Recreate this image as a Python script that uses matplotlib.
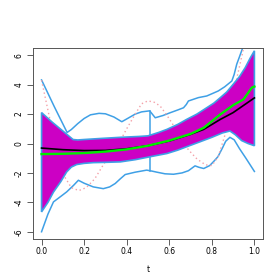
import numpy as np
import matplotlib
matplotlib.use("Agg")
import matplotlib.pyplot as plt

# Band (magenta) upper / lower
band_t_up = [0.0, 0.05, 0.10, 0.148, 0.17, 0.20, 0.276, 0.37, 0.46, 0.50, 0.55, 0.589, 0.64, 0.682, 0.73, 0.776, 0.81, 0.84, 0.87, 0.90, 0.93, 0.957, 0.98, 1.0]
band_up   = [2.1, 1.45, 0.85, 0.27, 0.24, 0.27, 0.34, 0.42, 0.48, 0.52, 0.75, 0.96, 1.3, 1.64, 2.0, 2.43, 2.75, 3.12, 3.5, 4.02, 4.55, 5.16, 5.8, 6.3]
band_t_lo = [0.0, 0.03, 0.056, 0.09, 0.118, 0.14, 0.165, 0.20, 0.243, 0.30, 0.37, 0.44, 0.51, 0.589, 0.64, 0.682, 0.745, 0.80, 0.85, 0.885, 0.91, 0.94, 0.97, 1.0]
band_lo   = [-4.65, -4.0, -3.3, -2.6, -1.93, -1.6, -1.43, -1.35, -1.3, -1.28, -1.25, -1.1, -0.9, -0.68, -0.45, -0.22, 0.12, 0.42, 0.72, 0.85, 0.6, 0.2, 0.0, -0.15]

# Outer upper / lower lines
out_t_up = [0.0, 0.06, 0.12, 0.14, 0.17, 0.20, 0.23, 0.27, 0.30, 0.34, 0.377, 0.41, 0.44, 0.47, 0.508,
            0.534, 0.57, 0.604, 0.64, 0.667, 0.68, 0.69, 0.737, 0.776, 0.80, 0.83, 0.86, 0.894, 0.905, 0.917, 0.93, 0.945, 0.96]
out_up   = [4.32, 2.5, 0.75, 0.95, 1.35, 1.7, 1.95, 2.05, 2.02, 1.8, 1.48, 1.75, 2.0, 2.15, 2.22,
            1.75, 1.9, 2.09, 2.28, 2.43, 2.65, 2.89, 3.12, 3.23, 3.38, 3.57, 3.85, 4.25, 4.7, 5.39, 5.9, 6.5, 7.2]
out_t_lo = [0.0, 0.03, 0.056, 0.09, 0.118, 0.15, 0.173, 0.20, 0.243, 0.29, 0.32, 0.346, 0.37, 0.393, 0.44, 0.494, 0.52, 0.542, 0.58, 0.62,
            0.66, 0.69, 0.721, 0.74, 0.762, 0.79, 0.81, 0.829, 0.85, 0.865, 0.885, 0.905, 0.93, 0.96, 1.0]
out_lo   = [-6.0, -4.8, -3.97, -3.6, -3.29, -2.85, -2.5, -2.7, -2.95, -3.07, -2.95, -2.72, -2.4, -2.11, -1.95, -1.81, -1.88, -1.95, -2.06, -2.09,
            -2.0, -1.85, -1.52, -1.62, -1.7, -1.5, -1.2, -0.89, -0.3, 0.15, 0.42, 0.25, -0.35, -1.0, -1.9]
vline_t = 0.508
vline_y = [-1.85, 2.22]

# True function (pink dotted)
true_t = [0.0, 0.025, 0.05, 0.08, 0.11, 0.14, 0.175, 0.21, 0.25, 0.29, 0.33, 0.36, 0.40, 0.44, 0.47, 0.50, 0.53, 0.557, 0.585, 0.612, 0.65, 0.69, 0.73, 0.77, 0.80, 0.83, 0.86, 0.89, 0.92, 0.945, 0.96]
true_y = [4.3, 2.6, 0.9, -0.8, -2.3, -3.0, -3.2, -3.0, -2.4, -1.45, -0.6, -0.07, 1.0, 2.0, 2.7, 2.9, 2.8, 2.55, 2.0, 1.41, 0.5, -0.43, -1.05, -1.45, -1.5, -0.9, 0.5, 2.5, 4.6, 6.2, 7.5]

# Mean (black) and estimate (green)
mean_t = [0.0, 0.1, 0.2, 0.3, 0.4, 0.5, 0.6, 0.7, 0.762, 0.84, 0.9, 0.95, 1.0]
mean_y = [-0.31, -0.42, -0.48, -0.47, -0.36, -0.15, 0.17, 0.62, 0.96, 1.64, 2.1, 2.6, 3.1]
est_t = [0.0, 0.1, 0.2, 0.3, 0.4, 0.5, 0.6, 0.7, 0.762, 0.84, 0.9, 0.949, 0.988, 1.0]
est_y = [-0.72, -0.7, -0.65, -0.55, -0.4, -0.15, 0.2, 0.65, 1.07, 1.98, 2.6, 3.0, 3.8, 3.87]

xticks = [0.0, 0.2, 0.4, 0.6, 0.8, 1.0]
yticks = [-6, -4, -2, 0, 2, 4, 6]

blue = "#3FA0E6"
mag = "#CC00C4"

fig = plt.figure(figsize=(2.8, 2.8), dpi=100)
ax = fig.add_axes([0.118, 0.146, 0.821, 0.683])

ax.plot(out_t_up, out_up, color=blue, lw=1.1, zorder=2)
ax.plot(out_t_lo, out_lo, color=blue, lw=1.1, zorder=2)
ax.plot([vline_t, vline_t], vline_y, color=blue, lw=1.1, zorder=2)
ax.plot(true_t, true_y, color="#F4A0A8", lw=1.0, ls=(0, (1, 2)), zorder=2)

grid = np.unique(np.concatenate([band_t_up, band_t_lo]))
up_i = np.interp(grid, band_t_up, band_up)
lo_i = np.interp(grid, band_t_lo, band_lo)
poly_x = np.concatenate([grid, grid[::-1]])
poly_y = np.concatenate([up_i, lo_i[::-1]])
ax.fill(poly_x, poly_y, facecolor=mag, edgecolor=blue, lw=1.2, zorder=3)

ax.plot(mean_t, mean_y, color="black", lw=1.2, zorder=4)
ax.plot(est_t, est_y, color="#00EE00", lw=1.7, zorder=5)

ax.set_xlim(-0.04, 1.04)
ax.set_ylim(-6.5, 6.5)
ax.set_xticks(xticks)
ax.set_xticklabels([f"{v:.1f}" for v in xticks], fontsize=5.5)
ax.set_yticks(yticks)
ax.set_yticklabels([f"{v}" for v in yticks], fontsize=5.5, rotation=90, va="center")
ax.tick_params(length=4, width=0.6, color="#444444", pad=2)
ax.tick_params(axis="y", pad=3)
for s in ax.spines.values():
    s.set_linewidth(0.7)
    s.set_color("#555555")
ax.set_xlabel("t", fontsize=5.5, labelpad=6)

fig.savefig("out.png", dpi=100)
